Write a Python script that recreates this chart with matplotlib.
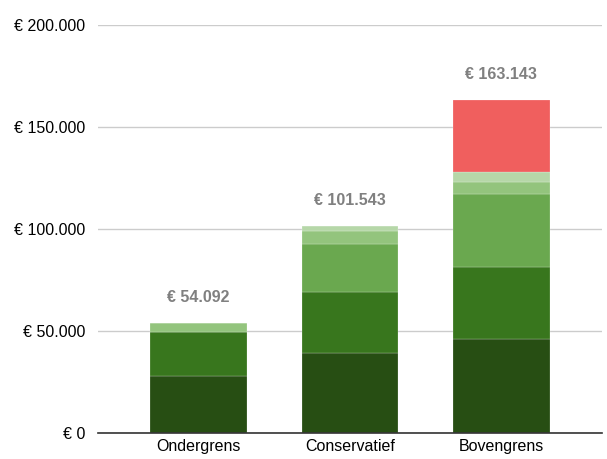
import matplotlib
matplotlib.use("Agg")
import matplotlib.pyplot as plt
import numpy as np

plt.rcParams['font.family'] = ['Liberation Sans', 'DejaVu Sans']

categories = ["Ondergrens", "Conservatief", "Bovengrens"]
seg1 = [28000, 39400, 46100]
seg2 = [21500, 29700, 35300]
seg3 = [0, 23700, 35800]
seg4 = [4300, 6200, 6000]
seg5 = [292, 2543, 4600]
seg6 = [0, 0, 35343]
totals = [54092, 101543, 163143]
total_labels = ["€ 54.092", "€ 101.543", "€ 163.143"]
yticks = [0, 50000, 100000, 150000, 200000]
ytick_labels = ["€ 0", "€ 50.000", "€ 100.000", "€ 150.000", "€ 200.000"]

colors = ["#274e13", "#38761d", "#6aa84f", "#93c47d", "#b6d7a8", "#f05f5e"]
series = [seg1, seg2, seg3, seg4, seg5, seg6]

fig = plt.figure(figsize=(6.07, 4.59), dpi=100)
ax = fig.add_axes([98/607, 26/459, 504/607, 408/459])

x = np.arange(len(categories))
bottom = np.zeros(len(categories))
for s, c in zip(series, colors):
    vals = np.array(s, dtype=float)
    ax.bar(x, vals, width=0.64, bottom=bottom, color=c, edgecolor=(1, 1, 1, 0.5), linewidth=0.3, zorder=3)
    bottom += vals

for xi, t, lbl in zip(x, totals, total_labels):
    ax.annotate(lbl, (xi, t), xytext=(0, 13), textcoords='offset points', ha='center', va='bottom',
                fontsize=11.5, fontweight='bold', color='#808080')

ax.set_xlim(-0.665, 2.665)
ax.set_ylim(0, 200000)
ax.set_yticks(yticks)
ax.set_yticklabels(ytick_labels, fontsize=11.5, color='#000000')
ax.set_xticks(x)
ax.set_xticklabels(categories, fontsize=11.5, color='#000000')
ax.tick_params(axis='both', length=0)
ax.tick_params(axis='y', pad=9)
ax.tick_params(axis='x', pad=4)
ax.grid(axis='y', color='#cccccc', linewidth=1, zorder=0)
for sp in ['top', 'right', 'left']:
    ax.spines[sp].set_visible(False)
ax.spines['bottom'].set_color('#333333')
ax.spines['bottom'].set_linewidth(1.2)
ax.spines['bottom'].set_zorder(4)

fig.savefig("out.png", dpi=100)
